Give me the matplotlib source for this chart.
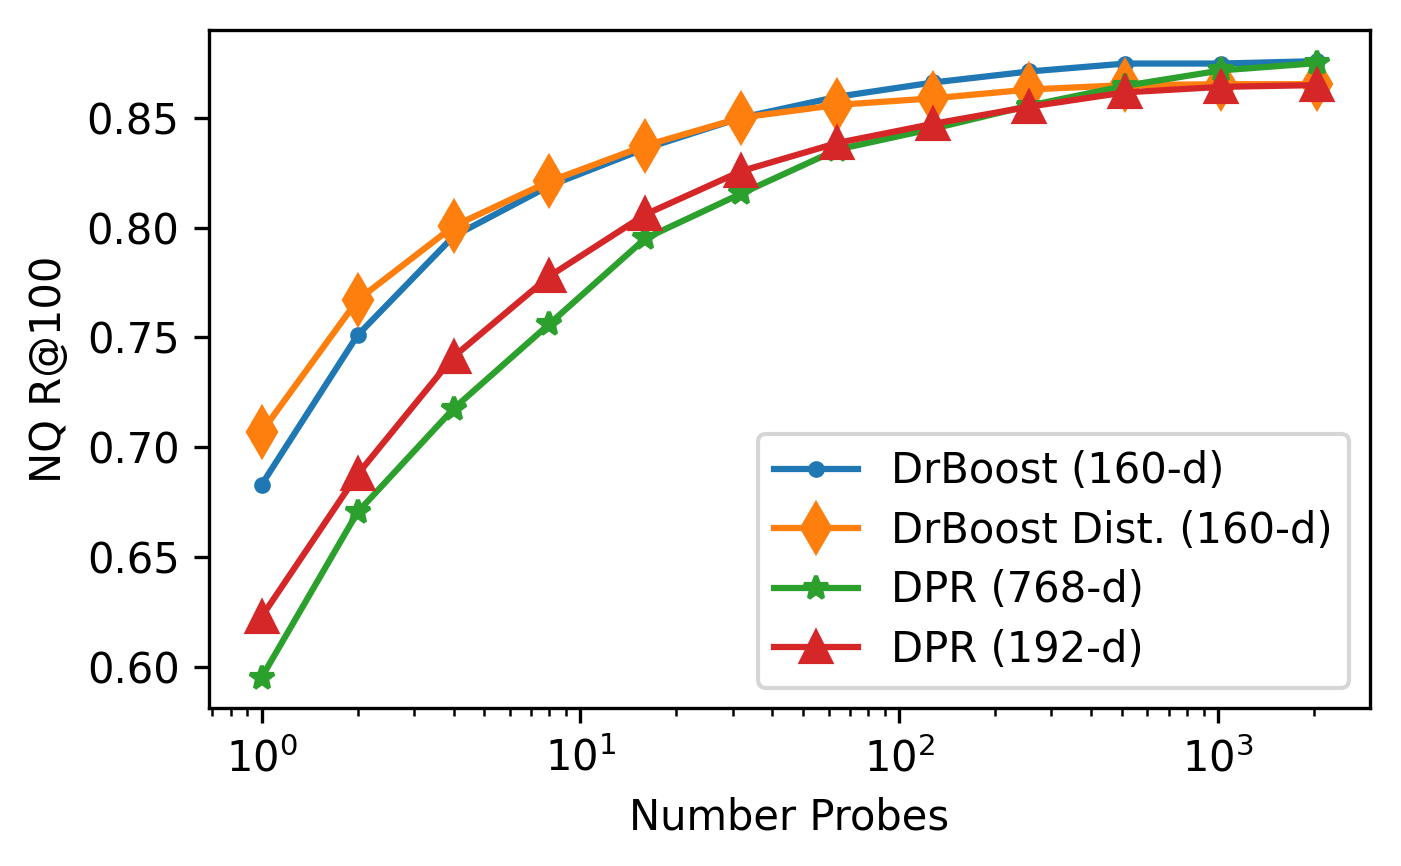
import numpy as np
import matplotlib
matplotlib.use('Agg')
import matplotlib.pyplot as plt

# number of probes (log scale)
probes = [1, 2, 4, 8, 16, 32, 64, 128, 256, 512, 1024, 2048]

drboost = [0.683, 0.751, 0.796, 0.819, 0.836, 0.850, 0.8595, 0.866, 0.871, 0.8746, 0.8746, 0.8757]
drboost_dist = [0.707, 0.767, 0.8006, 0.821, 0.8373, 0.850, 0.8558, 0.8588, 0.8628, 0.8648, 0.8652, 0.8652]
dpr_768 = [0.5953, 0.6705, 0.7176, 0.7562, 0.7951, 0.8155, 0.8355, 0.845, 0.8555, 0.8645, 0.8715, 0.8748]
dpr_192 = [0.6229, 0.6877, 0.7412, 0.7779, 0.806, 0.8257, 0.8385, 0.8472, 0.855, 0.8615, 0.864, 0.8648]

fig = plt.figure(figsize=(1401 / 300, 866 / 300), dpi=300)
ax = fig.add_subplot(111)
fig.subplots_adjust(left=0.149, right=0.978, top=0.965, bottom=0.182)

ax.plot(probes, drboost, marker='o', markersize=3, label='DrBoost (160-d)')
ax.plot(probes, drboost_dist, marker='d', markersize=8, label='DrBoost Dist. (160-d)')
ax.plot(probes, dpr_768, marker='*', markersize=6, label='DPR (768-d)')
ax.plot(probes, dpr_192, marker='^', markersize=7, label='DPR (192-d)')

ax.set_xscale('log')
ax.set_xlabel('Number Probes')
ax.set_ylabel('NQ R@100')
ax.legend(loc='lower right', labelspacing=0.42)

fig.savefig('out.png', dpi=300)
